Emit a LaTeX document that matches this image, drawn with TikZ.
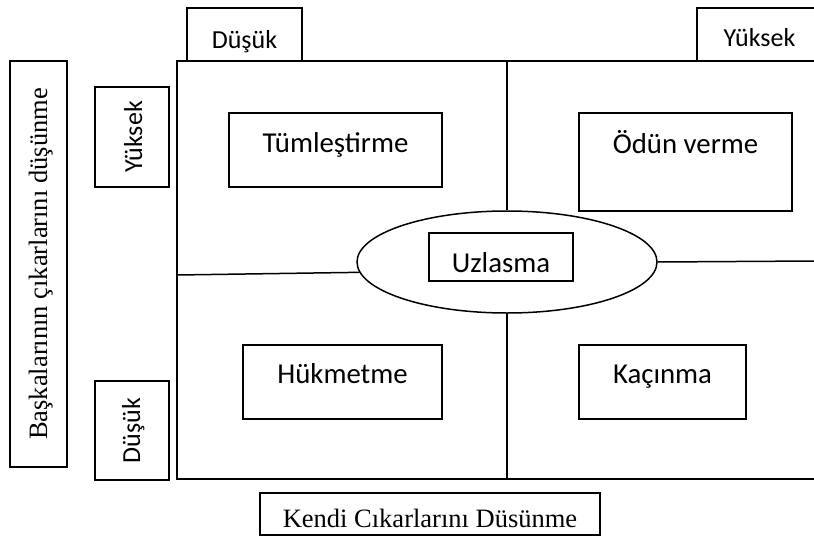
\documentclass[tikz,border=0pt]{standalone}
\usepackage{fontspec}
\setmainfont{Liberation Serif}
\newfontfamily\calfont{Carlito}
\usetikzlibrary{shapes.geometric}

\begin{document}
\begin{tikzpicture}[x=1pt,y=-1pt,line width=1.5pt,
  tbox/.style={draw,inner sep=0pt,text height=30pt,align=center},
  big/.style={tbox,font=\calfont\fontsize{28.8}{30}\selectfont},
  axis/.style={tbox,font=\calfont\fontsize{26}{28}\selectfont},
  title/.style={tbox,font=\fontsize{26.5}{28}\selectfont}]
\clip (0,0) rectangle (814,538);
\fill[white] (0,0) rectangle (814,538);
\coordinate (frTL) at (177,61); \coordinate (frBL) at (177,479);
\coordinate (frL) at (177,275); \coordinate (frR) at (814,261);
\draw (814,61) -- (frTL) -- (frBL) -- (814,479);
\node[axis,minimum width=115,minimum height=53,text depth=3pt] (dusukTop) at (244.5,34.5) {Düşük};
\node[axis,minimum width=125,minimum height=53,text depth=7pt] (yuksekTop) at (759.5,34.5) {Yüksek};
\node[title,rotate=90,minimum width=406,minimum height=57,text depth=13pt] (bask) at (38.5,264) {Başkalarının çıkarlarını düşünme};
\node[axis,rotate=90,minimum width=100,minimum height=74,text depth=10pt] (yuksekL) at (132,137) {Yüksek};
\node[axis,rotate=90,minimum width=99,minimum height=74,text depth=14pt] (dusukL) at (132,430.5) {Düşük};
\node[big,minimum width=213,minimum height=74,text depth=26pt] (tum) at (335.5,150) {Tümleştirme};
\node[big,minimum width=213,minimum height=98,text depth=48pt] (odun) at (685.5,162) {Ödün verme};
\node[big,minimum width=199,minimum height=74,text depth=28pt] (huk) at (342.5,382) {Hükmetme};
\node[big,minimum width=167,minimum height=74,text depth=28pt] (kac) at (662.5,382) {Kaçınma};
\node[draw,ellipse,inner sep=0pt,minimum width=300,minimum height=102] (uz) at (507,262) {};
\node[big,minimum width=144,minimum height=48,text depth=0pt] (uzb) at (501,257) {Uzlasma};
\node[title,minimum width=340,minimum height=42,text depth=4pt] (kendi) at (430,514) {Kendi Cıkarlarını Düsünme};
\draw (uz.north) -- (uz.north |- frTL); \draw (uz.south) -- (uz.south |- frBL);
\draw (frL) -- (uz.184); \draw (uz.east) -- (frR);
\end{tikzpicture}
\end{document}
